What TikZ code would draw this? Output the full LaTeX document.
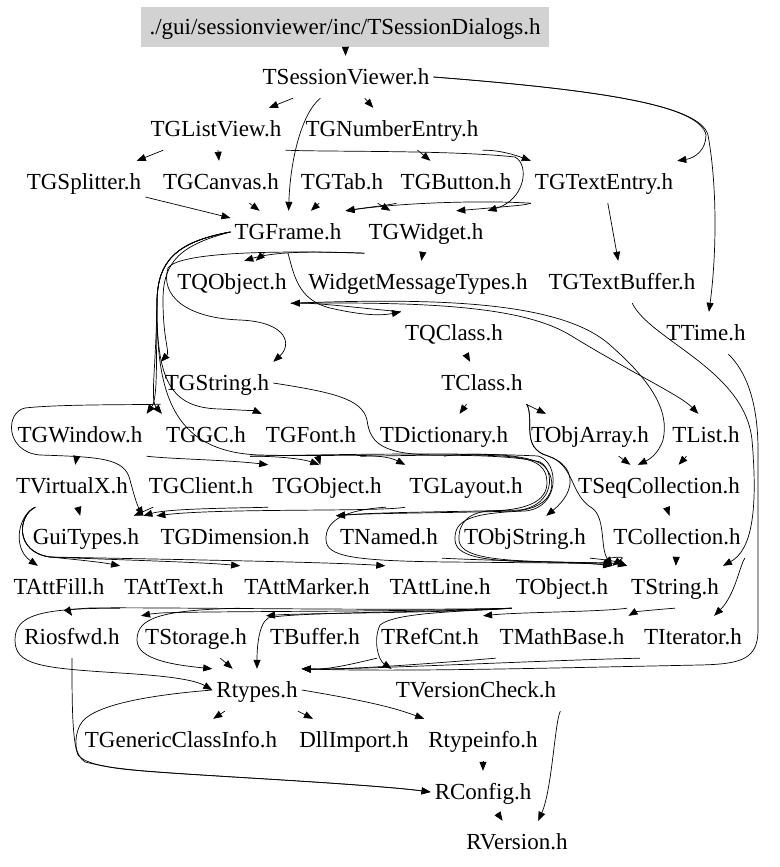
\documentclass[tikz,border=0pt]{standalone}
\usepackage{fontspec}
\setmainfont{Liberation Serif}
\usetikzlibrary{arrows.meta}
\begin{document}
\begin{tikzpicture}[x=1pt,y=-1pt,
  nd/.style={font=\fontsize{23}{26}\selectfont, inner xsep=4pt, inner ysep=13pt,
             text height=15.5pt, text depth=0.5pt},
  rootnd/.style={nd, fill=gray!35, inner xsep=9pt, inner ysep=12pt},
  edg/.style={line width=0.7pt, -{Triangle[length=9pt,width=7pt]}}]
\useasboundingbox (0,0) rectangle (779,867);
% nodes
\node[rootnd] (root) at (345,27) {./gui/sessionviewer/inc/TSessionDialogs.h};
\node[nd] (sv)  at (346,77)  {TSessionViewer.h};
\node[nd] (lv)  at (216,129) {TGListView.h};
\node[nd] (ne)  at (392,129) {TGNumberEntry.h};
\node[nd] (spl) at (84,182)  {TGSplitter.h};
\node[nd] (can) at (221,182) {TGCanvas.h};
\node[nd] (tab) at (342,182) {TGTab.h};
\node[nd] (btn) at (456,182) {TGButton.h};
\node[nd] (te)  at (604,182) {TGTextEntry.h};
\node[nd] (frm) at (288,232) {TGFrame.h};
\node[nd] (wid) at (426,232) {TGWidget.h};
\node[nd] (qob) at (232,282) {TQObject.h};
\node[nd] (wmt) at (418,282) {WidgetMessageTypes.h};
\node[nd] (tb)  at (622,282) {TGTextBuffer.h};
\node[nd] (qcl) at (454,333) {TQClass.h};
\node[nd] (tim) at (706,333) {TTime.h};
\node[nd] (gst) at (217,383) {TGString.h};
\node[nd] (cls) at (482,383) {TClass.h};
\node[nd] (win) at (80,435)  {TGWindow.h};
\node[nd] (gc)  at (206,435) {TGGC.h};
\node[nd] (fnt) at (311,435) {TGFont.h};
\node[nd] (dic) at (444,435) {TDictionary.h};
\node[nd] (oba) at (590,435) {TObjArray.h};
\node[nd] (lst) at (706,435) {TList.h};
\node[nd] (vx)  at (72,486)  {TVirtualX.h};
\node[nd] (cli) at (201,486) {TGClient.h};
\node[nd] (gob) at (327,486) {TGObject.h};
\node[nd] (lay) at (466,486) {TGLayout.h};
\node[nd] (seq) at (659,486) {TSeqCollection.h};
\node[nd] (gui) at (86,537)  {GuiTypes.h};
\node[nd] (dim) at (235,537) {TGDimension.h};
\node[nd] (nam) at (389,537) {TNamed.h};
\node[nd] (ost) at (525,537) {TObjString.h};
\node[nd] (col) at (677,537) {TCollection.h};
\node[nd] (fil) at (59,587)  {TAttFill.h};
\node[nd] (txt) at (174,587) {TAttText.h};
\node[nd] (mrk) at (307,587) {TAttMarker.h};
\node[nd] (lin) at (440,587) {TAttLine.h};
\node[nd] (obj) at (562,587) {TObject.h};
\node[nd] (str) at (675,587) {TString.h};
\node[nd] (ios) at (72,637)  {Riosfwd.h};
\node[nd] (sto) at (196,637) {TStorage.h};
\node[nd] (buf) at (315,637) {TBuffer.h};
\node[nd] (ref) at (430,637) {TRefCnt.h};
\node[nd] (mth) at (562,637) {TMathBase.h};
\node[nd] (itr) at (693,637) {TIterator.h};
\node[nd] (rty) at (257,690) {Rtypes.h};
\node[nd] (vck) at (476,690) {TVersionCheck.h};
\node[nd] (gci) at (181,740) {TGenericClassInfo.h};
\node[nd] (dll) at (354,740) {DllImport.h};
\node[nd] (rti) at (483,740) {Rtypeinfo.h};
\node[nd] (rcf) at (483,792) {RConfig.h};
\node[nd] (rvr) at (517,842) {RVersion.h};
% edges: top part
\draw[edg] (root) -- (sv);
\draw[edg] (sv) -- (lv);
\draw[edg] (sv) -- (ne);
\draw[edg] (sv) .. controls (300,115) and (290,165) .. (frm);
\draw[edg] (sv.east) .. controls (600,90) and (700,105) .. (706,135) .. controls (706,150) and (695,158) .. (te.north east);
\draw[edg] (sv.east) .. controls (600,90) and (700,105) .. (708,135) .. controls (718,190) and (716,260) .. (tim);
\draw[edg] (lv) -- (spl);
\draw[edg] (lv) -- (can);
\draw[edg] (lv.south east) .. controls (330,152) and (450,150) .. (515,157) .. controls (530,165) and (525,200) .. (wid.north east);
\draw[edg] (ne) -- (btn);
\draw[edg] (ne.south east) .. controls (500,150) and (515,155) .. (te.north west);
\draw[edg] (can) -- (frm);
\draw[edg] (spl) -- (frm);
\draw[edg] (tab) -- (frm);
\draw[edg] (tab) -- (wid);
\draw[edg] (btn.south west) .. controls (390,205) and (370,207) .. (frm.north east);
\draw[edg] (te.south west) .. controls (480,200) and (400,203) .. (frm.north east);
\draw[edg] (te.south west) .. controls (525,205) .. (wid.35);
\draw[edg] (te) -- (tb);
\draw[edg] (frm) -- (qob);
\draw[edg] (wid.south west) .. controls (330,252) and (280,250) .. (qob.60);
\draw[edg] (wid) -- (wmt);
\draw[edg] (frm.west) .. controls (180,245) and (163,262) .. (163,300) .. controls (163,340) and (170,352) .. (gst.north west);
\draw[edg] (wid.south west) .. controls (300,251) and (180,250) .. (168,268) .. controls (160,295) and (185,318) .. (240,320) .. controls (288,322) and (292,345) .. (gst.north east);
\draw[edg] (frm.west) .. controls (175,242) and (158,262) .. (157,300) .. controls (156,360) and (158,398) .. (win.north east);
\draw[edg] (frm.west) .. controls (175,242) and (158,262) .. (157,300) .. controls (156,370) and (150,400) .. (gc.north west);
\draw[edg] (frm.west) .. controls (175,242) and (158,262) .. (157,300) .. controls (156,380) and (170,408) .. (220,409) .. controls (240,410) and (255,411) .. (fnt.north west);
\draw[edg] (frm.west) .. controls (175,242) and (158,262) .. (157,300) .. controls (156,390) and (170,452) .. (260,455) .. controls (340,457) and (380,452) .. (lay.north west);
\draw[edg] (frm.south) .. controls (294,275) and (298,300) .. (330,308) .. controls (360,315) and (380,316) .. (qcl.north west);
\draw[edg] (qcl.north west) .. controls (360,308) and (320,303) .. (qob.south east);
\draw[edg] (qob.south east) .. controls (420,302) and (520,305) .. (570,335) .. controls (630,372) and (680,395) .. (lst.110);
\draw[edg] (qob.south east) .. controls (430,298) and (560,300) .. (610,345) .. controls (650,380) and (670,410) .. (663,440) .. controls (658,455) and (648,460) .. (seq.135);
\draw[edg] (qcl) -- (cls);
\draw[edg] (cls) -- (dic);
\draw[edg] (cls) -- (oba);
\draw[edg] (cls.south east) .. controls (535,420) and (520,448) .. (548,456) .. controls (575,465) and (578,490) .. (ost.45);
\draw[edg] (cls.south east) .. controls (535,420) and (520,448) .. (548,456) .. controls (575,465) and (570,495) .. (592,508) .. controls (606,518) and (600,548) .. (obj.north east);
\draw[edg] (oba) -- (seq);
\draw[edg] (lst) -- (seq);
\draw[edg] (tb) .. controls (650,340) and (745,370) .. (752,440) .. controls (758,510) and (752,550) .. (str.north east);
\draw[edg] (seq) -- (col);
\draw[edg] (col) -- (str);
\draw[edg] (col.south east) .. controls (740,565) and (735,595) .. (itr.45);
\draw[edg] (col.south west) .. controls (630,555) and (620,560) .. (obj.north east);
\draw[edg] (tim) .. controls (745,370) and (758,400) .. (758,450) -- (758,630) .. controls (758,660) and (740,664) .. (700,665) .. controls (550,668) and (400,672) .. (rty.north east);
% middle part
\draw[edg] (win) -- (vx);
\draw[edg] (win.south east) .. controls (170,459) and (230,460) .. (gob.north west);
\draw[edg] (gc.south east) .. controls (270,456) and (300,458) .. (gob.110);
\draw[edg] (fnt) -- (gob);
\draw[edg] (gst.south west) .. controls (140,405) and (60,404) .. (25,408) .. controls (5,412) and (5,452) .. (40,455) .. controls (100,457) and (125,458) .. (130,480) .. controls (134,495) and (137,505) .. (gui.north east);
\draw[edg] (cli) -- (gui);
\draw[edg] (vx) -- (gui);
\draw[edg] (gob.south west) .. controls (250,508) and (170,508) .. (gui.north east);
\draw[edg] (lay.south west) .. controls (380,512) and (220,508) .. (dim.north west);
\draw[edg] (fnt.south east) .. controls (400,456) and (500,452) .. (540,462) .. controls (555,470) and (555,505) .. (520,510) .. controls (450,512) and (380,512) .. (nam.north west);
\draw[edg] (dic.south) .. controls (460,453) and (530,452) .. (544,466) .. controls (558,480) and (556,508) .. (515,511) .. controls (450,513) and (370,513) .. (nam.north west);
\draw[edg] (gst.east) .. controls (330,392) and (362,398) .. (367,420) .. controls (370,445) and (385,455) .. (440,455) .. controls (510,455) and (540,455) .. (546,475) .. controls (552,500) and (530,510) .. (490,511) .. controls (470,512) and (458,522) .. (459,540) .. controls (460,556) and (490,561) .. (560,562) .. controls (600,563) and (615,563) .. (str.north west);
\draw[edg] (gc.south east) .. controls (300,455) and (460,452) .. (538,456) .. controls (560,462) and (560,508) .. (525,511) .. controls (470,513) and (454,520) .. (455,540) .. controls (456,556) and (480,561) .. (540,562) .. controls (590,563) and (605,563) .. (obj.north east);
\draw[edg] (gob.south east) .. controls (345,510) and (325,520) .. (326,540) .. controls (327,556) and (350,561) .. (450,562) .. controls (550,563) and (595,563) .. (obj.north east);
\draw[edg] (nam.south east) .. controls (500,561) and (580,562) .. (obj.north east);
\draw[edg] (ost.south east) .. controls (610,560) and (618,562) .. (str.north west);
\draw[edg] (vx.-150) .. controls (18,515) and (12,548) .. (fil.135);
\draw[edg] (vx.-150) .. controls (18,515) and (14,552) .. (50,557) .. controls (80,560) and (100,562) .. (txt.north west);
\draw[edg] (vx.-150) .. controls (18,515) and (14,552) .. (50,557) .. controls (120,560) and (200,562) .. (mrk.north west);
\draw[edg] (vx.-150) .. controls (18,515) and (14,552) .. (50,557) .. controls (150,559) and (330,562) .. (lin.north west);
% lower part
\draw[edg] (obj.south west) .. controls (400,611) and (150,607) .. (90,608) .. controls (75,609) and (68,610) .. (ios.north);
\draw[edg] (obj.south west) .. controls (400,612) and (200,611) .. (160,613) .. controls (150,614) .. (sto.north west);
\draw[edg] (obj.south west) .. controls (450,613) and (300,613) .. (buf.north west);
\draw[edg] (obj.south west) .. controls (450,612) and (290,612) .. (268,618) .. controls (258,625) and (257,650) .. (rty.north);
\draw[edg] (obj.south west) .. controls (450,612) and (395,613) .. (380,625) .. controls (373,640) and (378,660) .. (vck.north west);
\draw[edg] (str.south west) .. controls (600,612) and (520,612) .. (ref.north east);
\draw[edg] (str.south) .. controls (650,610) and (635,612) .. (mth.north east);
\draw[edg] (txt.south west) .. controls (40,608) and (15,615) .. (15,640) .. controls (15,665) and (40,668) .. (120,673) .. controls (170,676) and (195,680) .. (rty.west);
\draw[edg] (mrk.south west) .. controls (160,610) and (137,618) .. (137,640) .. controls (137,660) and (175,665) .. (rty.north west);
\draw[edg] (sto) -- (rty);
\draw[edg] (ref.south west) .. controls (360,662) and (330,670) .. (rty.north east);
\draw[edg] (mth.south west) .. controls (450,662) and (350,670) .. (rty.north east);
\draw[edg] (itr.south west) .. controls (550,660) and (350,670) .. (rty.north east);
\draw[edg] (ios.south) .. controls (72,700) and (72,740) .. (78,755) .. controls (90,768) and (120,770) .. (250,778) .. controls (350,784) and (400,788) .. (rcf.west);
\draw[edg] (rty.west) .. controls (150,695) and (90,705) .. (80,725) .. controls (73,740) and (75,755) .. (85,762) .. controls (120,770) .. (250,778) .. controls (350,784) and (400,788) .. (rcf.west);
\draw[edg] (rty) -- (gci);
\draw[edg] (rty) -- (dll);
\draw[edg] (rty.east) .. controls (380,703) and (400,710) .. (rti.north west);
\draw[edg] (rti) -- (rcf);
\draw[edg] (rcf) -- (rvr);
\draw[edg] (vck.south east) .. controls (555,720) and (552,790) .. (rvr.45);
\end{tikzpicture}
\end{document}
